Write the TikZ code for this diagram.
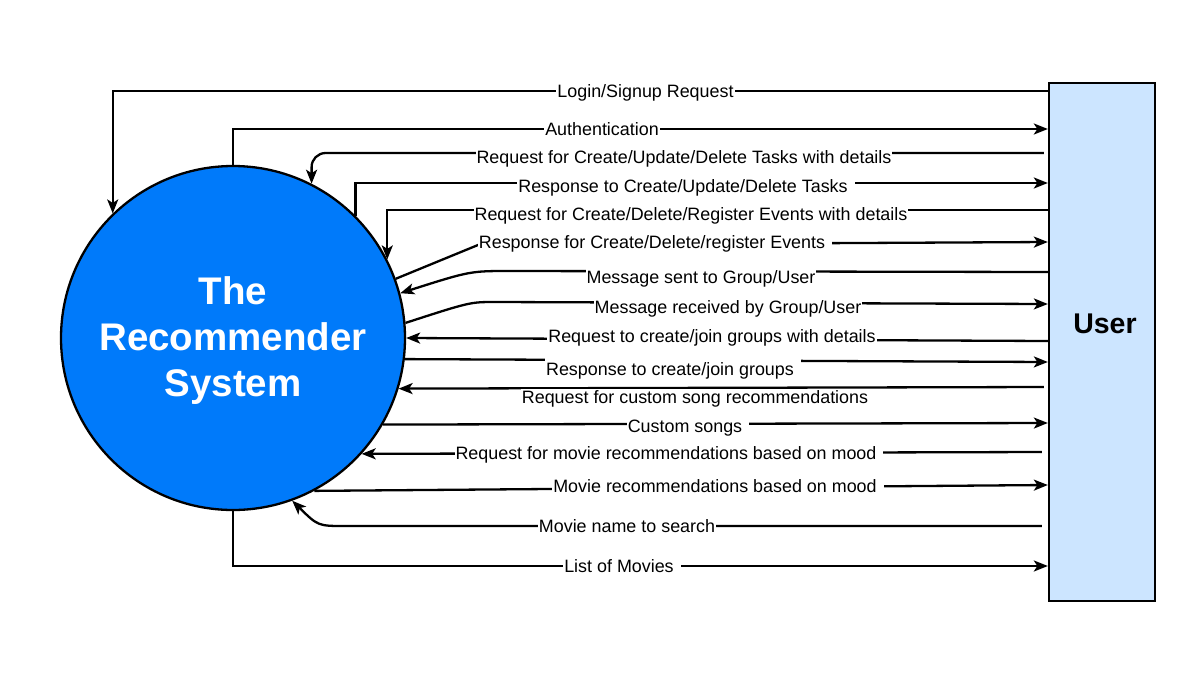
\documentclass[tikz,border=0pt]{standalone}
\usepackage{fontspec}
\setmainfont{Liberation Sans}
\usetikzlibrary{arrows.meta}
\definecolor{circblue}{RGB}{0,122,250}
\definecolor{boxblue}{RGB}{204,229,255}
\newcommand{\rgap}{\hspace*{6pt}}
\begin{document}
\begin{tikzpicture}[x=1pt,y=-1pt,
  arr/.style={line width=2.3pt,-{Stealth[length=14pt,width=11pt,inset=3.5pt]}},
  lbl/.style={fill=white,inner xsep=1pt,inner ysep=2.5pt,yshift=-2pt,font=\fontsize{17.9}{20}\selectfont,text height=12.5pt,text depth=3.5pt},
  ]
\useasboundingbox (0,0) rectangle (1179,694);
\node[circle,draw=black,line width=2.3pt,fill=circblue,minimum size=344pt,inner sep=0pt] (rs) at (233,338) {};
\node[text=white,align=center,font=\bfseries\fontsize{38.5}{46}\selectfont] (rstext) at (233,341) {The\\Recommender\\System};
\node[draw=black,line width=2.3pt,fill=boxblue,minimum width=106pt,minimum height=518pt,inner sep=0pt] (user) at (1102,342) {};
\node[font=\bfseries\fontsize{28.5}{32}\selectfont] (usertext) at (1105,324) {User};

% connectors
\draw[arr] (user.west |- 0,91) -| (rs.134);
\draw[arr] (rs.north) |- (user.west |- 0,129);
\draw[arr,rounded corners=14pt] ([xshift=-4pt]user.west |- 0,153) -| (rs.63);
\draw[arr] (rs.45) |- (user.west |- 0,183);
\draw[arr] (user.west |- 0,210) -| (rs.27);
\draw[arr] (rs.20) -- (478,245) -- (user.west |- 0,242);
\draw[arr] (user.west |- 0,272) -- (510,271) .. controls (470,271) .. (rs.15);
\draw[arr] (rs.5) .. controls (470,302) .. (495,302) -- (user.west |- 0,304);
\draw[arr] (user.west |- 0,341) -- (rs.east);
\draw[arr] (rs.-7) -- (user.west |- 0,362);
\draw[arr] ([xshift=-4pt]user.west |- 0,387) -- (rs.-17);
\draw[arr] (rs.-30) -- (user.west |- 0,423);
\draw[arr] ([xshift=-6pt]user.west |- 0,452) -- (rs.-42);
\draw[arr] (rs.-62) -- (user.west |- 0,485);
\draw[arr] ([xshift=-6pt]user.west |- 0,526) -- (345,526) .. controls (318,526) .. (rs.-70);
\draw[arr] (rs.south) |- (user.west |- 0,566);

% labels
\node[lbl] (l1) at (645.5,91) {Login/Signup Request};
\node[lbl] (l2) at (602,129) {Authentication};
\node[lbl] (l3) at (684,157) {Request for Create/Update/Delete Tasks with details};
\node[lbl] (l4) at (686,186) {Response to Create/Update/Delete Tasks\rgap};
\node[lbl] (l5) at (691,214) {Request for Create/Delete/Register Events with details};
\node[lbl] (l6) at (655,242) {Response for Create/Delete/register Events\rgap};
\node[lbl] (l7) at (701,277) {Message sent to Group/User};
\node[lbl] (l8) at (728,307) {Message received by Group/User};
\node[lbl] (l9) at (712,336) {Request to create/join groups with details};
\node[lbl,inner ysep=5pt] (l10) at (673,369) {Response to create/join groups\rgap};
\node[lbl] (l11) at (695,397) {Request for custom song recommendations};
\node[lbl] (l12) at (688,426) {Custom songs\rgap};
\node[lbl] (l13) at (669,453) {Request for movie recommendations based on mood\rgap};
\node[lbl] (l14) at (718,486) {Movie recommendations based on mood\rgap};
\node[lbl] (l15) at (627,526) {Movie name to search};
\node[lbl] (l16) at (622,566) {List of Movies\rgap};
\end{tikzpicture}
\end{document}
